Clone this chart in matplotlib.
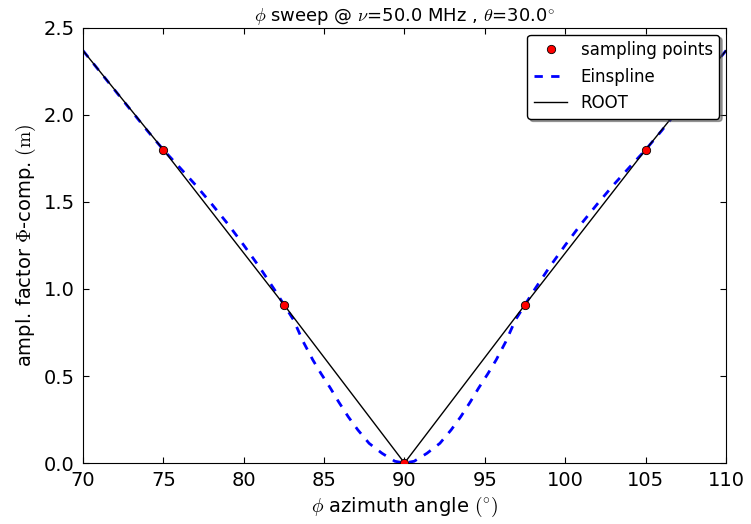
import numpy as np
import matplotlib
matplotlib.use("Agg")
import matplotlib.pyplot as plt

# sampling points (phi in deg, amplitude in m)
phi_samples = [75.0, 82.5, 90.0, 97.5, 105.0]
amp_samples = [1.80, 0.91, 0.0, 0.91, 1.80]

# ROOT: straight lines between the nodes, out to the axis edges
phi_root = [70.0, 75.0, 82.5, 90.0, 97.5, 105.0, 110.0]
amp_root = [2.37, 1.80, 0.91, 0.0, 0.91, 1.80, 2.37]

# Einspline curve
phi_spl = [70.0, 71.0, 72.0, 73.0, 74.0, 75.0, 76.0, 77.0, 78.0, 79.0,
           80.0, 81.0, 82.0, 82.5, 83.1, 83.7, 84.3, 84.8, 85.4, 85.9,
           86.5, 87.1, 87.8, 88.6, 89.4, 90.0, 90.6, 91.4, 92.2, 92.9,
           93.5, 94.1, 94.6, 95.2, 95.7, 96.3, 96.9, 97.5, 98.0, 99.0,
           100.0, 101.0, 102.0, 103.0, 104.0, 105.0, 106.0, 107.0, 108.0,
           109.0, 110.0]
amp_spl = [2.37, 2.255, 2.14, 2.025, 1.91, 1.80, 1.70, 1.598, 1.489, 1.375,
           1.252, 1.123, 0.984, 0.91, 0.822, 0.697, 0.592, 0.515, 0.429, 0.352,
           0.266, 0.190, 0.113, 0.056, 0.010, 0.0, 0.010, 0.056, 0.113, 0.190,
           0.266, 0.352, 0.429, 0.515, 0.592, 0.697, 0.822, 0.91, 0.984, 1.123,
           1.252, 1.375, 1.489, 1.598, 1.70, 1.80, 1.91, 2.025, 2.14,
           2.255, 2.37]

plt.rcParams['mathtext.fontset'] = 'cm'
plt.rcParams['font.family'] = 'DejaVu Sans'
plt.rcParams['xtick.direction'] = 'in'
plt.rcParams['ytick.direction'] = 'in'
plt.rcParams['xtick.top'] = True
plt.rcParams['ytick.right'] = True
plt.rcParams['lines.scale_dashes'] = False

fig = plt.figure(figsize=(7.51, 5.24), dpi=100)
ax = fig.add_axes([0.1105, 0.1164, 0.8562, 0.8302])

ax.plot(phi_samples, amp_samples, 'o', color='red', mec='black', mew=0.6,
        ms=6, label='sampling points', zorder=3)
ax.plot(phi_spl, amp_spl, color='blue', lw=2, dashes=(6, 6), label='Einspline')
ax.plot(phi_root, amp_root, color='black', lw=1, label='ROOT')

ax.set_xlim(70, 110)
ax.set_ylim(0, 2.5)
ax.set_xticks(np.arange(70, 111, 5))
ax.set_yticks(np.arange(0, 2.51, 0.5))
ax.xaxis.set_major_formatter(matplotlib.ticker.FormatStrFormatter('%d'))
ax.yaxis.set_major_formatter(matplotlib.ticker.FormatStrFormatter('%.1f'))
ax.tick_params(labelsize=14, length=4, width=0.8, pad=6)

ax.set_xlabel(r'$\phi$ azimuth angle $(^{\circ})$', fontsize=14, labelpad=3)
ax.set_ylabel(r'ampl. factor $\Phi$-comp. $(\mathrm{m})$', fontsize=14, labelpad=4)
ax.set_title(r'$\phi$ sweep @ $\nu$=50.0 MHz , $\theta$=30.0$^{\circ}$',
             fontsize=13, pad=5)

leg = ax.legend(loc='upper right', fontsize=12, shadow=True, fancybox=True,
                numpoints=1, framealpha=1, borderaxespad=0.4)
leg.get_frame().set_edgecolor('black')

fig.savefig('out.png', dpi=100, facecolor='white')
